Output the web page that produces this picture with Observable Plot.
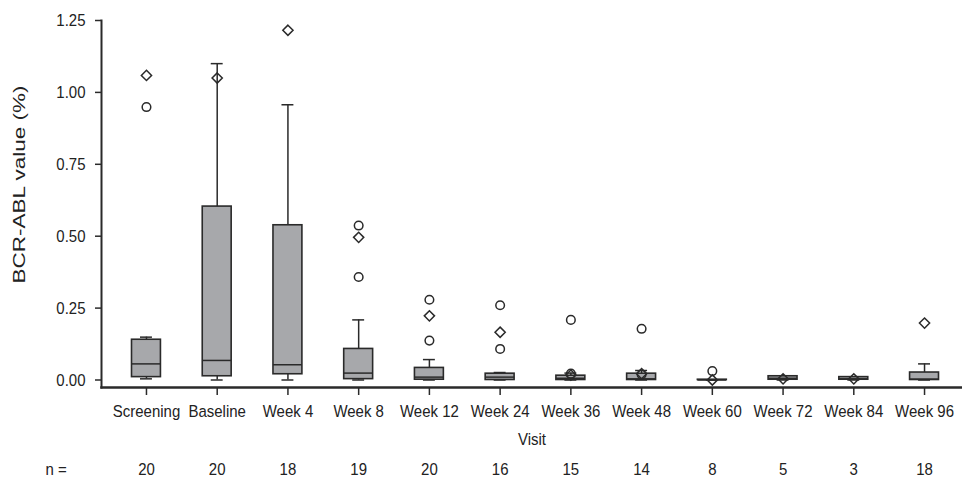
<!DOCTYPE html>
<html>
<head>
<meta charset="utf-8">
<script src="https://cdn.jsdelivr.net/npm/d3@7"></script>
<script src="https://cdn.jsdelivr.net/npm/@observablehq/plot@0.6"></script>
<style>
  html, body { margin: 0; padding: 0; background: #ffffff; }
</style>
</head>
<body>
<div id="chart"></div>
<script>
// ---- data ----
const visits = ["Screening", "Baseline", "Week 4", "Week 8", "Week 12", "Week 24",
                "Week 36", "Week 48", "Week 60", "Week 72", "Week 84", "Week 96"];
const nCounts    = [20, 20, 18, 19, 20, 16, 15, 14, 8, 5, 3, 18];
const whiskerLow = [0.004, 0.000, 0.000, 0.000, 0.000, 0.000, 0.000, 0.000, 0.000, 0.000, 0.000, 0.000];
const q1         = [0.010, 0.013, 0.020, 0.003, 0.001, 0.000, 0.000, 0.000, 0.000, 0.001, 0.001, 0.000];
const median     = [0.056, 0.068, 0.053, 0.024, 0.010, 0.010, 0.006, 0.004, 0.000, 0.006, 0.004, 0.003];
const q3         = [0.140, 0.603, 0.538, 0.108, 0.042, 0.022, 0.015, 0.022, 0.001, 0.013, 0.010, 0.026];
const whiskerHigh= [0.149, 1.100, 0.957, 0.209, 0.071, 0.026, 0.024, 0.033, 0.000, 0.013, 0.010, 0.056];

const outlierVisit = ["Screening", "Screening", "Baseline", "Week 4",
                      "Week 8", "Week 8", "Week 8",
                      "Week 12", "Week 12", "Week 12",
                      "Week 24", "Week 24", "Week 24",
                      "Week 36", "Week 36", "Week 36",
                      "Week 48", "Week 48", "Week 48",
                      "Week 60", "Week 60", "Week 72", "Week 84", "Week 96"];
const outlierValue = [1.059, 0.949, 1.050, 1.216,
                      0.537, 0.496, 0.358,
                      0.279, 0.223, 0.137,
                      0.260, 0.166, 0.108,
                      0.209, 0.022, 0.017,
                      0.178, 0.019, 0.022,
                      0.031, 0.000, 0.004, 0.004, 0.198];
const outlierShape = ["diamond", "circle", "diamond", "diamond",
                      "circle", "diamond", "circle",
                      "circle", "diamond", "circle",
                      "circle", "diamond", "circle",
                      "circle", "circle", "diamond",
                      "circle", "circle", "diamond",
                      "circle", "diamond", "diamond", "diamond", "diamond"];

const yTicks = [0, 0.25, 0.5, 0.75, 1.0, 1.25];
const xTitle = "Visit";
const yTitle = "BCR-ABL value (%)";
const nLabel = "n =";

// ---- build tables ----
const boxes = visits.map((v, i) => ({
  visit: v, n: nCounts[i], lo: whiskerLow[i], q1: q1[i], med: median[i], q3: q3[i], hi: whiskerHigh[i]
}));
const outliers = outlierVisit.map((v, i) => ({ visit: v, value: outlierValue[i], shape: outlierShape[i] }));

const INK = "#2a2a2a";
const BOX_INSET = 20.9;
const CAP_INSET = 29.4;

const plot = Plot.plot({
  width: 962,
  height: 480,
  marginTop: 20,
  marginBottom: 93,
  marginLeft: 101,
  marginRight: 0,
  style: { fontFamily: "'Liberation Sans', Arial, Helvetica, sans-serif", fontSize: "15px", color: "#222", background: "#fff" },
  x: { type: "band", domain: visits, padding: 0, round: false, insetLeft: 9.6, insetRight: 2.6, label: null },
  y: { domain: [0, 1.25], insetBottom: 7.5, label: null },
  marks: [
    Plot.ruleX(boxes, { x: "visit", y1: "lo", y2: "hi", stroke: INK, strokeWidth: 1.5 }),
    Plot.tickY(boxes, { x: "visit", y: "hi", stroke: INK, strokeWidth: 1.5, insetLeft: CAP_INSET, insetRight: CAP_INSET }),
    Plot.tickY(boxes, { x: "visit", y: "lo", stroke: INK, strokeWidth: 1.5, insetLeft: CAP_INSET, insetRight: CAP_INSET }),
    Plot.barY(boxes, { x: "visit", y1: "q1", y2: "q3", fill: "#a7a8ab", stroke: INK, strokeWidth: 1.6,
                       insetLeft: BOX_INSET, insetRight: BOX_INSET }),
    Plot.tickY(boxes, { x: "visit", y: "med", stroke: INK, strokeWidth: 1.5, insetLeft: BOX_INSET, insetRight: BOX_INSET }),
    Plot.dot(outliers.filter(d => d.shape === "circle"), { x: "visit", y: "value", symbol: "circle", r: 4.3,
                       fill: "none", stroke: INK, strokeWidth: 1.5 }),
    Plot.dot(outliers.filter(d => d.shape === "diamond"), { x: "visit", y: "value", symbol: "diamond2", r: 4.6,
                       fill: "none", stroke: INK, strokeWidth: 1.5 }),
    Plot.frame({ anchor: "left", stroke: INK, strokeWidth: 2 }),
    Plot.frame({ anchor: "bottom", stroke: INK, strokeWidth: 2.5 }),
    Plot.axisY({ ticks: yTicks, tickFormat: d3.format(".2f"), tickSize: 6, tickPadding: 10,
                 stroke: INK, strokeWidth: 1.5, fontSize: 15, label: null }),
    Plot.axisX({ tickSize: 8, tickPadding: 9, stroke: INK, strokeWidth: 1.5, fontSize: 15, label: null }),
    Plot.text([xTitle], { frameAnchor: "bottom", dy: 57, fontSize: 15, fill: "#222" }),
    Plot.text(boxes, { x: "visit", text: "n", frameAnchor: "bottom", dy: 87, fontSize: 15, fill: "#222" }),
    Plot.text([nLabel], { frameAnchor: "bottom-left", textAnchor: "start", dx: -56, dy: 87, fontSize: 15, fill: "#222" }),
    Plot.text([yTitle], { frameAnchor: "left", textAnchor: "start", dx: -82, dy: 79.5, rotate: -90, fontSize: 16, fill: "#222" })
  ]
});

document.getElementById("chart").appendChild(plot);

// The reference's lettering is slightly taller than it is wide: stretch each label vertically about its anchor.
const S = 1.15;
const num = v => {
  if (v == null || /em$/.test(v)) return 0;
  const n = parseFloat(v);
  return isFinite(n) ? n : 0;
};
d3.select(plot).selectAll("text").each(function () {
  if (this.textContent === yTitle) {
    this.setAttribute("textLength", 198);
    this.setAttribute("lengthAdjust", "spacingAndGlyphs");
    return;
  }
  const x = num(this.getAttribute("x"));
  const y = num(this.getAttribute("y"));
  const t = this.getAttribute("transform") || "";
  this.setAttribute("transform", `${t} translate(${x},${y}) scale(1,${S}) translate(${-x},${-y})`.trim());
});
</script>
</body>
</html>
